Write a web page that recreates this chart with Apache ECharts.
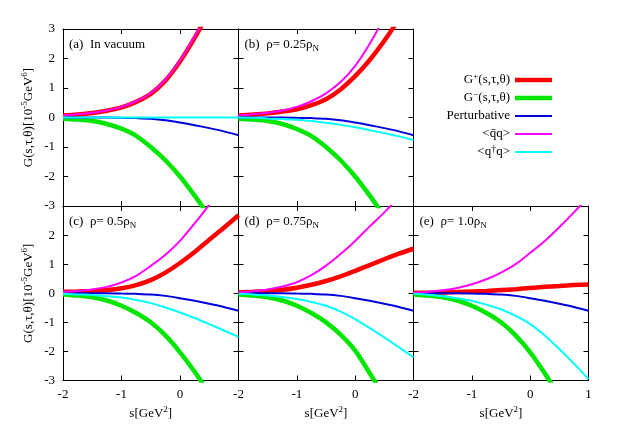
<!DOCTYPE html>
<html>
<head>
<meta charset="utf-8">
<script src="https://cdn.jsdelivr.net/npm/echarts@6/dist/echarts.min.js"></script>
<style>html,body{margin:0;padding:0;background:#fff}#c{width:627px;height:439px}</style>
</head>
<body>
<div id="c"></div>
<script>
// s values [GeV^2]
const S = [-2,-1.75,-1.5,-1.25,-1,-0.75,-0.5,-0.25,0,0.25,0.5,0.75,1];
const xTicks = [-2,-1,0,1];
const yTicks = [-3,-2,-1,0,1,2,3];

// Perturbative (same for all densities)
const pert = [0,0,0,0,-0.01,-0.02,-0.04,-0.09,-0.17,-0.26,-0.36,-0.47,-0.6];

// (a) in vacuum
const redA   = [0.07,0.1,0.15,0.23,0.34,0.53,0.8,1.25,1.9,2.7,3.6,4.6,5.8];
const greenA = [-0.04,-0.07,-0.12,-0.22,-0.38,-0.62,-1.0,-1.45,-2.0,-2.65,-3.35,-4.1,-5.0];
const magA   = [0.08,0.11,0.16,0.24,0.36,0.55,0.83,1.28,1.93,2.75,3.65,4.65,5.85];
const cyanA  = [0,0,0,0,0,0,0,0,0,0,0,0,0];
// (b) 0.25 rho_N
const redB   = [0.07,0.1,0.14,0.2,0.28,0.42,0.62,0.95,1.4,1.95,2.6,3.35,4.2];
const greenB = [-0.04,-0.07,-0.12,-0.22,-0.39,-0.63,-1.0,-1.45,-2.0,-2.65,-3.35,-4.1,-5.0];
const magB   = [0.08,0.11,0.16,0.24,0.36,0.55,0.82,1.2,1.75,2.5,3.4,4.4,5.5];
const cyanB  = [0,-0.01,-0.03,-0.05,-0.08,-0.12,-0.18,-0.25,-0.33,-0.43,-0.53,-0.64,-0.76];
// (c) 0.5 rho_N
const redC   = [0.05,0.06,0.08,0.11,0.17,0.28,0.45,0.71,1.04,1.42,1.84,2.25,2.68];
const greenC = [-0.04,-0.08,-0.14,-0.25,-0.43,-0.68,-1.0,-1.45,-2.03,-2.7,-3.45,-4.25,-5.1];
const magC   = [0.05,0.08,0.13,0.22,0.37,0.6,0.94,1.32,1.8,2.4,3.05,3.8,4.6];
const cyanC  = [-0.02,-0.04,-0.06,-0.1,-0.15,-0.23,-0.34,-0.49,-0.66,-0.85,-1.06,-1.28,-1.5];
// (d) 0.75 rho_N
const redD   = [0.03,0.05,0.08,0.12,0.19,0.29,0.42,0.58,0.77,0.97,1.17,1.36,1.53];
const greenD = [-0.04,-0.08,-0.14,-0.25,-0.43,-0.68,-1.0,-1.42,-1.97,-2.75,-3.55,-4.35,-5.2];
const magD   = [0.03,0.07,0.13,0.23,0.38,0.62,0.95,1.35,1.8,2.3,2.78,3.3,3.85];
const cyanD  = [-0.02,-0.04,-0.08,-0.13,-0.2,-0.3,-0.43,-0.63,-0.89,-1.2,-1.52,-1.86,-2.2];
// (e) 1.0 rho_N
const redE   = [0.02,0.02,0.03,0.04,0.06,0.08,0.11,0.14,0.18,0.22,0.25,0.28,0.3];
const greenE = [-0.04,-0.08,-0.14,-0.25,-0.43,-0.68,-1.0,-1.45,-2.03,-2.75,-3.55,-4.4,-5.3];
const magE   = [0.02,0.05,0.1,0.18,0.31,0.48,0.71,1.0,1.39,1.8,2.27,2.78,3.32];
const cyanE  = [-0.02,-0.05,-0.1,-0.17,-0.26,-0.39,-0.55,-0.78,-1.06,-1.45,-1.92,-2.42,-2.95];

const panelLabels = ['(a)  In vacuum','(b)  ρ= 0.25ρ{sub|N}','(c)  ρ= 0.5ρ{sub|N}','(d)  ρ= 0.75ρ{sub|N}','(e)  ρ= 1.0ρ{sub|N}'];
const seriesNames = ['G+','G-','Perturbative','qbarq','qdagq'];
const legendLabels = {
  'G+':'G{sup|+}(s,τ,θ)',
  'G-':'G{sup|−}(s,τ,θ)',
  'Perturbative':'Perturbative',
  'qbarq':'<q\u0304q>',
  'qdagq':'<q{dag|†}q>'
};
const panelData = [
  [redA,greenA,pert,magA,cyanA],
  [redB,greenB,pert,magB,cyanB],
  [redC,greenC,pert,magC,cyanC],
  [redD,greenD,pert,magD,cyanD],
  [redE,greenE,pert,magE,cyanE]
];

const FONT = 'Liberation Serif';
const FS = 13;
const colors = ['#ff0000','#00e600','#0000dd','#ff00ff','#00ffff'];
const widths = [4.5,4.5,2,2,2];
const grids = [
  {left:63, top:29, width:175.5, height:177},
  {left:238.5, top:29, width:175, height:177},
  {left:63, top:206, width:175.5, height:174.5},
  {left:238.5, top:206, width:175, height:174.5},
  {left:413.5, top:206, width:175, height:174.5}
];
const rich = {
  sup:{fontFamily:FONT, fontSize:9, verticalAlign:'top', lineHeight:10, color:'#000'},
  sub:{fontFamily:FONT, fontSize:9, verticalAlign:'bottom', lineHeight:10, color:'#000'},
  dag:{fontFamily:FONT, fontSize:10, verticalAlign:'top', lineHeight:10, color:'#000'}
};

const xAxes=[], yAxes=[], series=[], titles=[];
grids.forEach((g,i)=>{
  const bottomRow = i>=2;
  const lastCol = i===4;
  const firstCol = (i===0||i===2);
  const axLine = {show:true, onZero:false, lineStyle:{color:'#000', width:1}};
  const tick = {show:true, inside:true, length:5, lineStyle:{color:'#000'}};
  xAxes.push({gridIndex:i, type:'value', min:xTicks[0], max:xTicks[xTicks.length-1], interval:1, position:'bottom',
    axisLine:axLine, axisTick:tick, splitLine:{show:false},
    axisLabel:{show:bottomRow, showMaxLabel:lastCol, margin:8, fontFamily:FONT, fontSize:FS, color:'#000'},
    name: bottomRow ? 's[GeV{sup|2}]' : '', nameLocation:'middle', nameGap:25,
    nameTextStyle:{fontFamily:FONT, fontSize:FS, color:'#000', lineHeight:17, rich:rich}});
  xAxes.push({gridIndex:i, type:'value', min:xTicks[0], max:xTicks[xTicks.length-1], interval:1, position:'top',
    axisLine:axLine, axisTick:tick, splitLine:{show:false}, axisLabel:{show:false}});
  yAxes.push({gridIndex:i, type:'value', min:yTicks[0], max:yTicks[yTicks.length-1], interval:1, position:'left',
    axisLine:axLine, axisTick:tick, splitLine:{show:false},
    axisLabel:{show:firstCol, showMaxLabel:(i===0), margin:8, fontFamily:FONT, fontSize:FS, color:'#000'},
    name: firstCol ? 'G(s,τ,θ)[10{sup|-5}GeV{sup|6}]' : '', nameLocation:'middle', nameGap:26, nameRotate:90,
    nameTextStyle:{fontFamily:FONT, fontSize:FS, color:'#000', lineHeight:17, rich:rich}});
  yAxes.push({gridIndex:i, type:'value', min:yTicks[0], max:yTicks[yTicks.length-1], interval:1, position:'right',
    axisLine:axLine, axisTick:tick, splitLine:{show:false}, axisLabel:{show:false}});
  titles.push({text:panelLabels[i], left:g.left+6, top:g.top+7, padding:0,
    textStyle:{fontFamily:FONT, fontSize:FS, fontWeight:'normal', color:'#000', lineHeight:17, rich:rich}});
  panelData[i].forEach((arr,k)=>{
    series.push({type:'line', name:seriesNames[k], xAxisIndex:2*i, yAxisIndex:2*i,
      data:S.map((s,j)=>[s,arr[j]]), smooth:0.3, symbol:'none', clip:true,
      lineStyle:{color:colors[k], width:widths[k]}, itemStyle:{color:colors[k]}, z:2+k});
  });
});

const legendData = seriesNames.map((n,k)=>({
  name:n,
  icon: widths[k] > 3 ? 'path://M0 0H74V9H0Z' : 'path://M0 0H74V4H0Z',
  itemStyle:{color:colors[k]}
}));

const chart = echarts.init(document.getElementById('c'));
chart.setOption({
  animation:false,
  backgroundColor:'#fff',
  title:titles,
  legend:{orient:'vertical', right:70, top:67, align:'right', itemWidth:37, itemHeight:12, itemGap:2,
    symbolKeepAspect:true,
    data:legendData, formatter:n=>legendLabels[n],
    textStyle:{fontFamily:FONT, fontSize:FS, color:'#000', width:100, align:'right', lineHeight:16, rich:rich}},
  grid:grids,
  xAxis:xAxes,
  yAxis:yAxes,
  series:series
});
</script>
</body>
</html>
